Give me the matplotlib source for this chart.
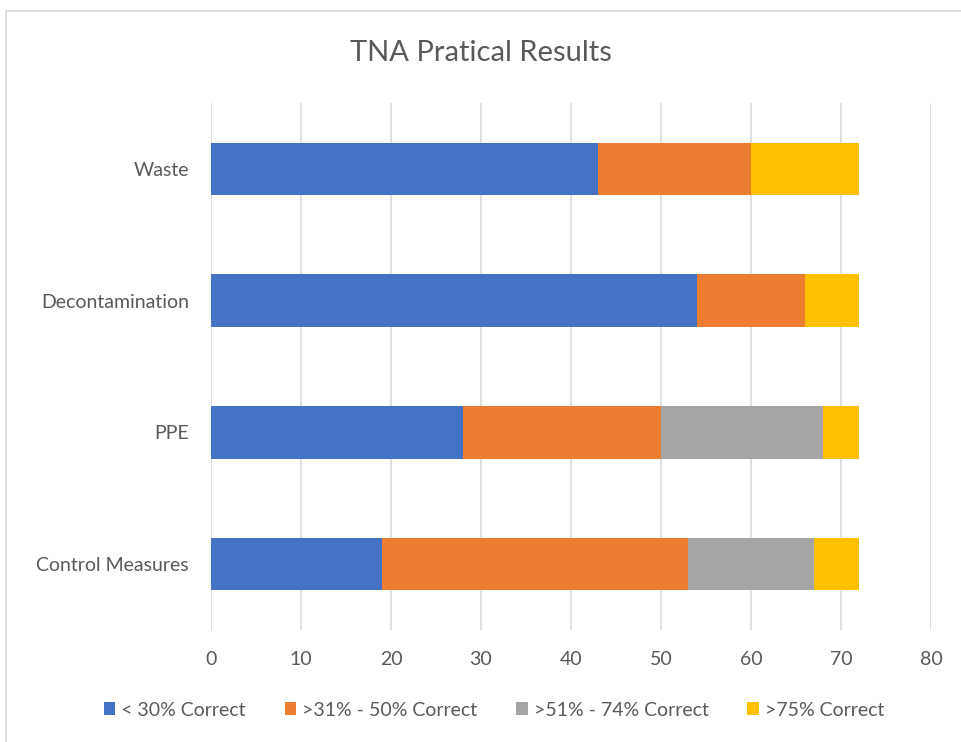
import numpy as np
import matplotlib.pyplot as plt
from matplotlib.patches import Rectangle

plt.rcParams['font.family'] = ['Lato', 'DejaVu Sans']

categories = ['Control Measures', 'PPE', 'Decontamination', 'Waste']
series = ['< 30% Correct', '>31% - 50% Correct', '>51% - 74% Correct', '>75% Correct']
low = [19, 28, 54, 43]
mid = [34, 22, 12, 17]
high = [14, 18, 0, 0]
top = [5, 4, 6, 12]
colors = ['#4472c4', '#ed7d31', '#a5a5a5', '#ffc000']

fig = plt.figure(figsize=(9.61, 7.42), dpi=100)
fig.patches.append(Rectangle((6/961, -0.1), 1.2, 1 - 11/742 + 0.1, transform=fig.transFigure,
                             fill=False, edgecolor='#d9d9d9', lw=1.2))
ax = fig.add_axes([211/961, 1 - 630/742, 720/961, 527/742])

y = np.arange(len(categories))
left = np.zeros(len(categories))
for vals, name, c in zip([low, mid, high, top], series, colors):
    ax.barh(y, vals, left=left, height=0.4, color=c, label=name, zorder=3)
    left += np.array(vals)

ax.set_xlim(0, 80)
ax.set_ylim(-0.5, 3.5)
ax.set_xticks(range(0, 81, 10))
ax.set_yticks(y)
ax.set_yticklabels(categories)
ax.grid(axis='x', color='#d9d9d9', lw=1.2, zorder=0)
for s in ax.spines.values():
    s.set_visible(False)
ax.tick_params(length=0, labelsize=14, colors='#595959', pad=15)
ax.tick_params(axis='y', pad=16)

fig.text(0.5, 1 - 53/742, 'TNA Pratical Results', ha='center', va='center', fontsize=21, color='#595959')
leg = fig.legend(loc='center', bbox_to_anchor=(494/961, 1 - 710/742), ncol=4, frameon=False,
                 fontsize=14, handlelength=0.6, handleheight=0.6, handletextpad=0.3, columnspacing=2.0)
for t in leg.get_texts():
    t.set_color('#595959')

fig.savefig('out.png', dpi=100)
